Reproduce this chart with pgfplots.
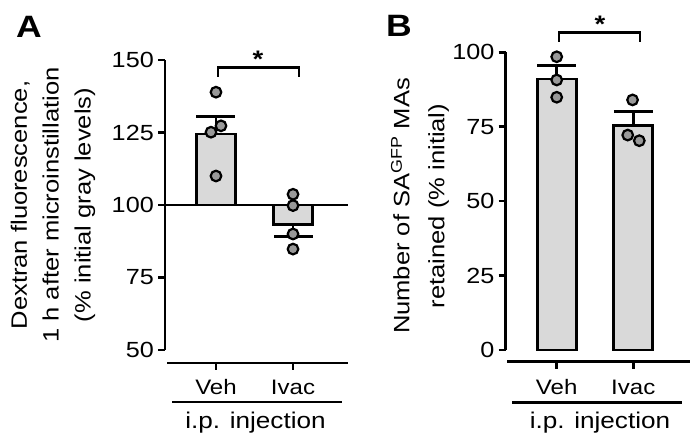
\documentclass[border=0pt]{standalone}
\usepackage{pgfplots}
\pgfplotsset{compat=1.18}
\usepackage{fontspec}
\setmainfont{Liberation Sans}[FakeStretch=1.15]
\definecolor{barfill}{HTML}{D9D9D9}
\definecolor{dotfill}{HTML}{999999}
\pgfplotsset{
  common/.style={
    scale only axis, anchor=south west, clip=false,
    axis x line=none, axis y line*=left,
    y axis line style={line width=2.7bp, -},
    tick align=outside, major tick length=7bp,
    ytick style={line width=2.7bp, black},
    yticklabel style={font=\fontsize{22}{26}\selectfont, inner sep=4bp},
    /pgf/number format/assume math mode=true,
  },
  barst/.style={ybar, bar width=39bp, bar shift=0pt, fill=barfill, draw=black, line width=2.7bp,
    error bars/y explicit,
    error bars/error bar style={line width=2.7bp, black},
    error bars/error mark options={rotate=90, black, line width=2.7bp, mark size=19.5bp}},
  dots/.style={only marks, mark=*, mark size=5.3bp, mark options={fill=dotfill, draw=black, line width=2.2bp}},
}
\begin{document}
\begin{tikzpicture}
\path[use as bounding box] (0,0) rectangle (697bp,447bp);

% ---------------- Panel A ----------------
\begin{axis}[common,
  at={(165bp,97bp)}, width=183bp, height=290bp,
  xmin=0.338, xmax=2.714, ymin=-50, ymax=50,
  ytick={-50,-25,0,25,50}, yticklabels={50,75,100,125,150},
]
\addplot[barst, y filter/.expression={y-100}, error bars/y dir=plus]
  coordinates {(1,124.5) +- (0,6.0)};
\addplot[barst, y filter/.expression={y-100}, error bars/y dir=minus]
  coordinates {(2,93.3) +- (0,4.2)};
\draw[line width=2.7bp] (axis cs:0.338,0) -- (axis cs:2.714,0);
\addplot[dots, y filter/.expression={y-100}] coordinates {
  (1,138.9) (1.065,127.3) (0.935,125.1) (1,110.0)
  (2,103.7) (2,99.8) (2,90.0) (2,84.8)};
\end{axis}

% ---------------- Panel B ----------------
\begin{axis}[common,
  at={(505.7bp,97bp)}, width=184.3bp, height=297.7bp,
  xmin=0.334, xmax=2.740, ymin=0, ymax=100,
  ytick={0,25,50,75,100},
]
\addplot[barst, error bars/y dir=plus]
  coordinates {(1,91.0) +- (0,4.5) (2,75.3) +- (0,4.7)};
\addplot[dots] coordinates {
  (1,98.5) (1,90.7) (1,84.9)
  (1.99,84.0) (1.927,72.2) (2.078,70.3)};
\end{axis}

% ---------- decorations (x axes, labels, brackets) ----------
\begin{scope}[line width=2.7bp]
  % A
  \draw (167bp,84bp) -- (348bp,84bp);
  \draw (216bp,84bp) -- (216bp,77bp);
  \draw (293bp,84bp) -- (293bp,77bp);
  \draw (172bp,45bp) -- (342bp,45bp);
  \draw (218bp,370bp) -- (218bp,379.3bp) -- (299bp,379.3bp) -- (299bp,370bp);
  % B
  \draw (507bp,85.3bp) -- (690bp,85.3bp);
  \draw (556.7bp,85.3bp) -- (556.7bp,78bp);
  \draw (633.3bp,85.3bp) -- (633.3bp,78bp);
  \draw (512bp,44.3bp) -- (682bp,44.3bp);
  \draw (559bp,405.3bp) -- (559bp,414.7bp) -- (640bp,414.7bp) -- (640bp,405.3bp);
\end{scope}

\begin{scope}[every node/.style={inner sep=0pt, font=\fontsize{21}{25}\selectfont}]
  \node[anchor=base] at (216bp,52.7bp) {Veh};
  \node[anchor=base] at (293bp,52.7bp) {Ivac};
  \node[anchor=base] at (556.7bp,52.7bp) {Veh};
  \node[anchor=base] at (633.3bp,52.7bp) {Ivac};
  \node[anchor=base, font=\fontsize{22.8}{27}\selectfont] at (255.5bp,19bp) {i.p. injection};
  \node[anchor=base, font=\fontsize{22.8}{27}\selectfont] at (600bp,19bp) {i.p. injection};
  \node[rotate=90, align=center, font=\fontsize{22.3}{32}\selectfont] at (53bp,242bp)
    {Dextran fluorescence,\\1 h after microinstillation\\(\% initial gray levels)};
  \node[rotate=90, align=center, font=\fontsize{22.3}{35}\selectfont] at (420bp,241bp)
    {Number of SA\textsuperscript{GFP} MAs\\retained (\% initial)};
  \node[anchor=base west, font=\fontsize{31}{36}\bfseries] at (16bp,409bp) {A};
  \node[anchor=base west, font=\fontsize{31}{36}\bfseries] at (386bp,410bp) {B};
  \node[font=\fontsize{24}{30}\bfseries] at (258bp,388bp) {*};
  \node[font=\fontsize{24}{30}\bfseries] at (600bp,423bp) {*};
\end{scope}
\end{tikzpicture}
\end{document}
